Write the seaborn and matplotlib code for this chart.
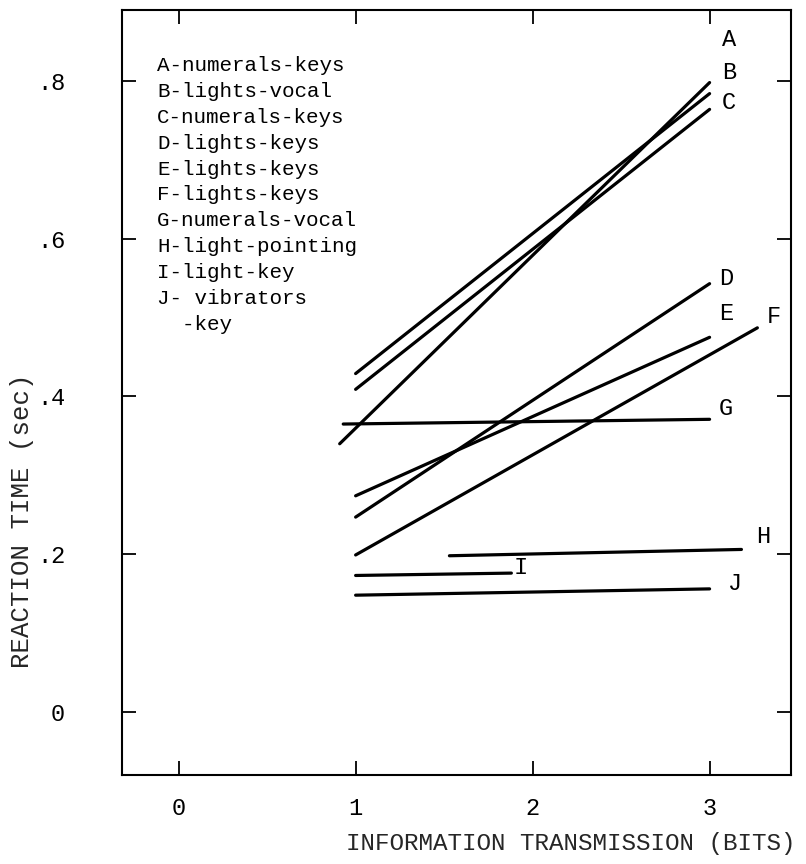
import numpy as np
import pandas as pd
import matplotlib
matplotlib.use("Agg")
import matplotlib.pyplot as plt
import seaborn as sns

# line segments (bits, sec)
series = ["A", "B", "C", "D", "E", "F", "G", "H", "I", "J"]
x_start = [0.91, 1.0, 1.0, 1.0, 1.0, 1.0, 0.93, 1.53, 1.0, 1.0]
x_end = [3.0, 3.0, 3.0, 3.0, 3.0, 3.27, 3.0, 3.18, 1.88, 3.0]
y_start = [0.340, 0.429, 0.409, 0.247, 0.274, 0.199, 0.365, 0.198, 0.173, 0.148]
y_end = [0.798, 0.784, 0.764, 0.543, 0.475, 0.487, 0.371, 0.206, 0.176, 0.156]

legend_lines = [
    "A-numerals-keys",
    "B-lights-vocal",
    "C-numerals-keys",
    "D-lights-keys",
    "E-lights-keys",
    "F-lights-keys",
    "G-numerals-vocal",
    "H-light-pointing",
    "I-light-key",
    "J- vibrators",
    "  -key",
]

x_ticks = [0, 1, 2, 3]
y_ticks = [0, 0.2, 0.4, 0.6, 0.8]
y_ticklabels = ["0", ".2", ".4", ".6", ".8"]

# where each letter sits relative to its line end (points)
label_offset = {
    "A": (14, 31), "B": (14, 15), "C": (14, 5), "D": (12, 4), "E": (12, 17),
    "F": (12, 8), "G": (12, 8), "H": (16, 9), "I": (7, 4), "J": (18, 4),
}

rows = []
for s, x0, x1, y0, y1 in zip(series, x_start, x_end, y_start, y_end):
    rows.append({"series": s, "bits": x0, "rt": y0})
    rows.append({"series": s, "bits": x1, "rt": y1})
df = pd.DataFrame(rows)

sns.set_style("ticks")
plt.rcParams["font.family"] = ["Liberation Mono", "DejaVu Sans Mono"]

fig = plt.figure(figsize=(8.06, 8.64), dpi=100)
ax = fig.add_axes([122 / 806, 89 / 864, 669 / 806, 765 / 864])

sns.lineplot(data=df, x="bits", y="rt", hue="series", units="series",
             estimator=None, sort=False, palette={s: "black" for s in series},
             linewidth=2.3, legend=False, ax=ax)

for s, x1, y1 in zip(series, x_end, y_end):
    dx, dy = label_offset[s]
    ax.annotate(s, (x1, y1), xytext=(dx, dy), textcoords="offset points",
                ha="center", va="center", fontsize=17, color="black")

ax.text(35 / 669, 719 / 765, "\n".join(legend_lines), transform=ax.transAxes,
        ha="left", va="top", fontsize=15, linespacing=1.46, color="black")

ax.set_xlim(-0.32, 3.46)
ax.set_ylim(-0.08, 0.89)
ax.set_xticks(x_ticks)
ax.set_xticklabels([str(v) for v in x_ticks])
ax.set_yticks(y_ticks)
ax.set_yticklabels(y_ticklabels)

ax.tick_params(axis="both", direction="in", length=10, width=1.3,
               top=True, right=True, labelsize=17, colors="black")
ax.tick_params(axis="y", pad=41)
ax.tick_params(axis="x", pad=16)
for sp in ax.spines.values():
    sp.set_visible(True)
    sp.set_linewidth(1.5)
    sp.set_color("black")

ax.set_xlabel("INFORMATION TRANSMISSION (BITS)", fontsize=17.5)
ax.xaxis.set_label_coords(0.671, -0.075)
ax.set_ylabel("REACTION TIME (sec)", fontsize=18.5)
ax.yaxis.set_label_coords(-0.132, 0.333)

fig.savefig("out.png", dpi=100)
